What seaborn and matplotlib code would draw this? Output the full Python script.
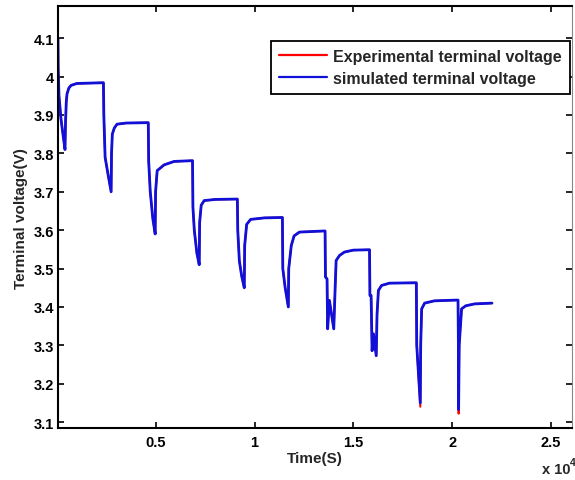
import numpy as np
import pandas as pd
import matplotlib
matplotlib.use('Agg')
import matplotlib.pyplot as plt
import seaborn as sns

# time in seconds
time_s = [50, 60, 100, 200, 300, 405, 430, 470, 507, 600, 710, 1000, 2350,
          2370, 2435, 2600, 2740, 2760, 2800, 2900, 3040, 3500, 4620,
          4640, 4720, 4850, 4970, 4990, 5070, 5420, 5930, 6860,
          6880, 6950, 7080, 7200, 7220, 7300, 7450, 8000, 9130,
          9150, 9230, 9350, 9480, 9500, 9600, 9800, 10500, 11410,
          11430, 11550, 11710, 11730, 11860, 12000, 12270, 13570,
          13590, 13670, 13700, 13790, 14010, 14080, 14130, 14300, 14550, 15000, 15820,
          15840, 15900, 15950, 16020, 16160, 16200, 16270, 16430, 16830, 18190,
          18210, 18390, 18410, 18460, 18610, 19110, 20300,
          20320, 20330, 20360, 20480, 20690, 21140, 22020]

v_sim = [4.100, 4.02, 3.95, 3.89, 3.85, 3.810, 3.88, 3.935, 3.955, 3.970, 3.977, 3.982, 3.984,
         3.90, 3.79, 3.74, 3.700, 3.80, 3.850, 3.866, 3.876, 3.879, 3.880,
         3.78, 3.70, 3.63, 3.590, 3.70, 3.755, 3.770, 3.779, 3.781,
         3.66, 3.60, 3.54, 3.510, 3.62, 3.665, 3.677, 3.680, 3.681,
         3.60, 3.52, 3.48, 3.450, 3.56, 3.615, 3.628, 3.632, 3.633,
         3.50, 3.45, 3.400, 3.50, 3.560, 3.585, 3.595, 3.598,
         3.478, 3.473, 3.343, 3.417, 3.343, 3.450, 3.521, 3.534, 3.543, 3.548, 3.549,
         3.430, 3.430, 3.286, 3.330, 3.273, 3.38, 3.443, 3.456, 3.462, 3.463,
         3.30, 3.150, 3.30, 3.395, 3.410, 3.416, 3.418,
         3.30, 3.133, 3.30, 3.395, 3.403, 3.408, 3.410]

v_exp = [4.100, 4.02, 3.95, 3.89, 3.85, 3.810, 3.88, 3.935, 3.955, 3.970, 3.977, 3.982, 3.984,
         3.90, 3.79, 3.74, 3.700, 3.80, 3.850, 3.866, 3.876, 3.879, 3.880,
         3.78, 3.70, 3.63, 3.590, 3.70, 3.755, 3.770, 3.779, 3.781,
         3.66, 3.60, 3.54, 3.510, 3.62, 3.665, 3.677, 3.680, 3.681,
         3.60, 3.52, 3.48, 3.450, 3.56, 3.615, 3.628, 3.632, 3.633,
         3.50, 3.45, 3.400, 3.50, 3.560, 3.585, 3.595, 3.598,
         3.478, 3.473, 3.343, 3.417, 3.343, 3.450, 3.521, 3.534, 3.543, 3.548, 3.549,
         3.430, 3.430, 3.286, 3.330, 3.273, 3.38, 3.443, 3.456, 3.462, 3.463,
         3.30, 3.140, 3.30, 3.395, 3.410, 3.416, 3.418,
         3.30, 3.122, 3.30, 3.395, 3.403, 3.408, 3.410]

x_ticks = [5000, 10000, 15000, 20000, 25000]
x_tick_labels = ['0.5', '1', '1.5', '2', '2.5']
y_ticks = [3.1, 3.2, 3.3, 3.4, 3.5, 3.6, 3.7, 3.8, 3.9, 4.0, 4.1]
y_tick_labels = ['3.1', '3.2', '3.3', '3.4', '3.5', '3.6', '3.7', '3.8', '3.9', '4', '4.1']

df = pd.DataFrame({'t': time_s, 'sim': v_sim, 'exp': v_exp})

sns.set_style('ticks')
plt.rcParams['font.family'] = ['Liberation Sans', 'DejaVu Sans']
plt.rcParams['font.weight'] = 'bold'

fig = plt.figure(figsize=(5.75, 4.81), dpi=100)
ax = fig.add_axes([58 / 575, 1 - 429.3 / 481, 514 / 575, 422 / 481])

sns.lineplot(data=df, x='t', y='exp', ax=ax, color='#ff0000', linewidth=1.4,
             sort=False, estimator=None, label='Experimental terminal voltage')
sns.lineplot(data=df, x='t', y='sim', ax=ax, color='#1010d8', linewidth=2.0,
             sort=False, estimator=None, label='simulated terminal voltage')

ax.set_xlim(50, 26070)
ax.set_ylim(3.084, 4.183)
ax.set_xticks(x_ticks)
ax.set_xticklabels(x_tick_labels)
ax.set_yticks(y_ticks)
ax.set_yticklabels(y_tick_labels)
ax.tick_params(direction='in', top=True, right=True, length=4, width=1.2,
               labelsize=10.5, colors='black')
ax.tick_params(axis='x', pad=5)
ax.tick_params(axis='y', pad=3)
for lab in ax.get_xticklabels() + ax.get_yticklabels():
    lab.set_fontweight('bold')

for side in ['left', 'bottom', 'top']:
    ax.spines[side].set_linewidth(1.5)
    ax.spines[side].set_color('black')
ax.spines['right'].set_linewidth(0.8)
ax.spines['right'].set_color('#888888')

ax.set_xlabel('Time(S)', fontsize=11, fontweight='bold', labelpad=1)
ax.set_ylabel('Terminal voltage(V)', fontsize=11, fontweight='bold', labelpad=4)

leg = ax.legend(loc='upper right', bbox_to_anchor=(0.996, 0.9185), borderaxespad=0,
                fancybox=False, framealpha=1, edgecolor='black',
                prop={'size': 11.5, 'weight': 'bold'}, handlelength=3.0,
                handletextpad=0.4, borderpad=0.5, labelspacing=0.45)
leg.get_frame().set_linewidth(1.3)
for line in leg.get_lines():
    line.set_linewidth(1.6)

fig.text(542 / 575, 1 - 470 / 481, 'x 10', fontsize=10.5, fontweight='bold',
         va='center', ha='left')
fig.text(570 / 575, 1 - 463 / 481, '4', fontsize=7.5, fontweight='bold',
         va='center', ha='left')

fig.savefig('out.png', dpi=100)
